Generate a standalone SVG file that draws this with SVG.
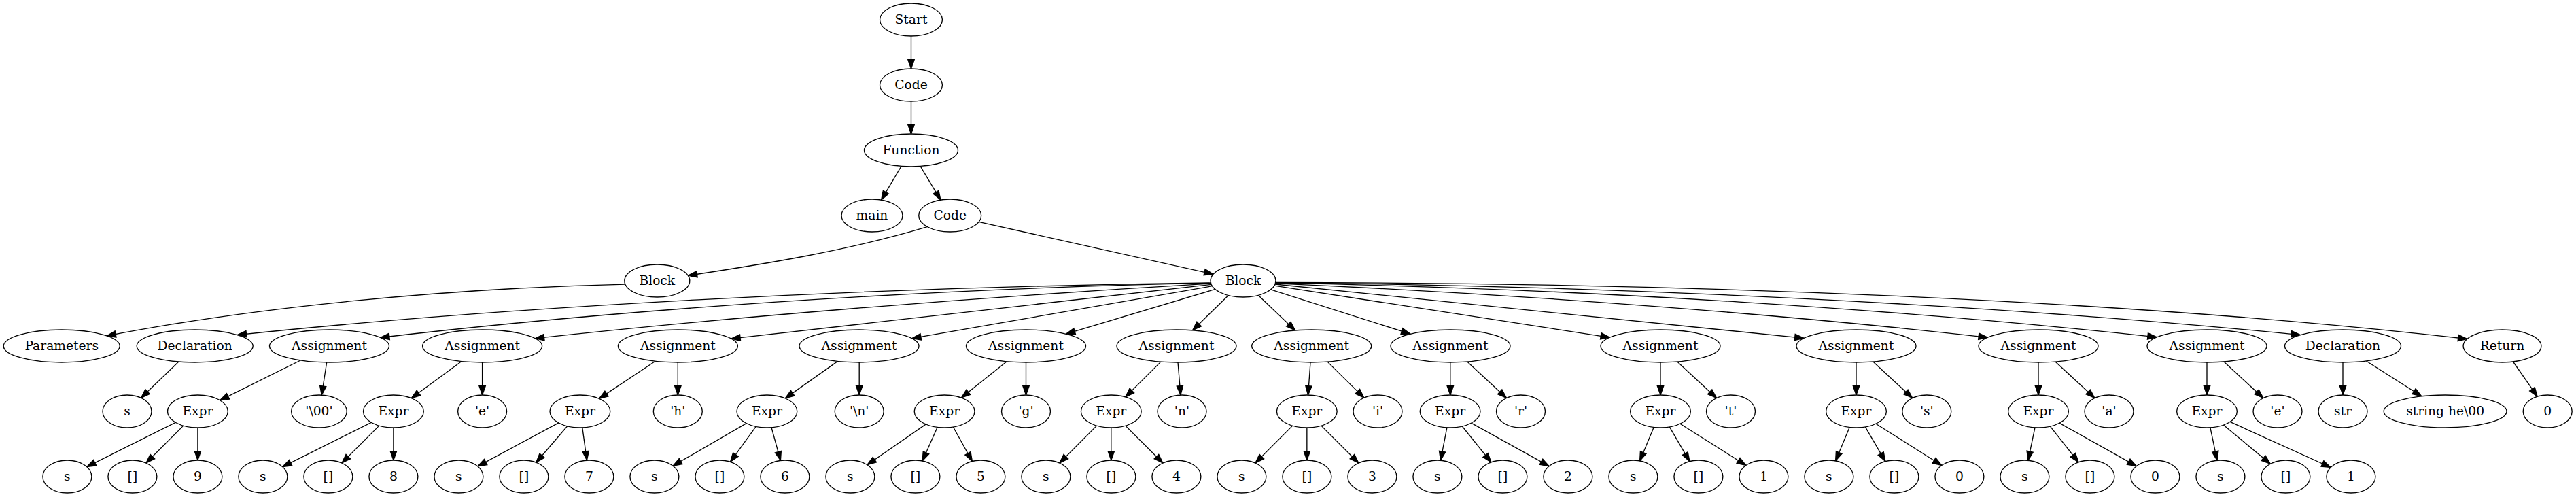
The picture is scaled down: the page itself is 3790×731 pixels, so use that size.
<svg xmlns="http://www.w3.org/2000/svg" width="3790" height="731" viewBox="0 0 3790 731">
<style>
.node ellipse { fill: #ffffff; stroke: #000000; stroke-width: 1.33; }
.node text { font-family: "DejaVu Serif", "Liberation Serif", serif; font-size: 18.67px; text-anchor: middle; fill: #000000; }
#edges path { fill: none; stroke: #000000; stroke-width: 1.33; marker-end: url(#arrow); }
</style>
<defs>
<marker id="arrow" markerUnits="userSpaceOnUse" markerWidth="16" markerHeight="12" viewBox="-1 -1 16 12" refX="13.33" refY="4.67" orient="auto" overflow="visible">
<path d="M0,0 L13.33,4.67 L0,9.33 Z" fill="#000000" stroke="#000000" stroke-width="1.33"/>
</marker>
</defs>
<rect x="0" y="0" width="3790" height="731" fill="#ffffff"/>
<g id="edges">
<path d="M1340.5,53 L1340.5,101"/>
<path d="M1340.5,149 L1340.5,197"/>
<path d="M1326,244.5 L1296.6,294.1"/>
<path d="M1354.1,244.5 L1383.9,294.1"/>
<path d="M1364.2,333.7 C1248.1,368.5 1128.4,387.9 1012.3,405.3"/>
<path d="M1440,326.4 L1785.1,403.2"/>
<path d="M919.9,418.1 C652.9,424.2 370.6,452.3 157,494"/>
<path d="M1781.4,416 C1280.1,422.1 750.2,450.5 349.2,492.6"/>
<path d="M1781.5,416.4 C1353.8,424.4 901.7,456.5 559.6,496.5"/>
<path d="M1781.7,417.1 C1433.7,437.3 1065.7,467.1 787.3,497.7"/>
<path d="M1782.2,418.4 L1075.8,498.1"/>
<path d="M1783.5,420.7 L1341.7,497.7"/>
<path d="M1787.8,425.4 L1568.4,491.2"/>
<path d="M1807.2,434.4 L1754.6,485.9"/>
<path d="M1851.3,434.2 L1905.5,485.9"/>
<path d="M1869.6,425.8 L2075.1,491.2"/>
<path d="M1874.8,420.2 L2368.4,496.3"/>
<path d="M1875.9,418 L2654,497.4"/>
<path d="M1876.4,416.9 C2243.2,432.8 2631,463 2924.4,496.3"/>
<path d="M1876.6,416.2 C2330.4,424.2 2810.2,456.1 3173.2,495.9"/>
<path d="M1876.7,415.8 C2404.4,420.4 2962.3,450.4 3384.5,492.6"/>
<path d="M1876.7,415.5 C2490.3,415.5 3139,442.1 3629.9,498.5"/>
<path d="M262.8,532 L207.5,585.3"/>
<path d="M442.1,530 L323.6,588.8"/>
<path d="M480.7,533 L473.2,581.1"/>
<path d="M679,531.5 L605.2,585.7"/>
<path d="M709.6,533 L709.6,581"/>
<path d="M964.1,531.2 L881.4,586.4"/>
<path d="M997.3,533 L997.3,581"/>
<path d="M1232.4,531.4 L1155.3,585.9"/>
<path d="M1264.2,533 L1264.2,581"/>
<path d="M1481.1,531.7 L1414.4,585.1"/>
<path d="M1509.5,533 L1509.5,581"/>
<path d="M1707.8,532.1 L1655.9,583.9"/>
<path d="M1733,533 L1737,581"/>
<path d="M1928,533 L1924.5,581"/>
<path d="M1953.1,532.1 L2006.8,585.1"/>
<path d="M2133.8,533 L2133.8,581"/>
<path d="M2158.8,532 L2216.5,585.5"/>
<path d="M2443,533 L2443,581"/>
<path d="M2467.8,532 L2525.5,585.5"/>
<path d="M2731,533 L2731,581"/>
<path d="M2755.9,532 L2813.7,585.5"/>
<path d="M2999,533 L2999,581"/>
<path d="M3024,532 L3081.9,585.5"/>
<path d="M3247,533 L3247,581"/>
<path d="M3272,532 L3329.9,585.5"/>
<path d="M3447,533 L3447,581"/>
<path d="M3481.5,531 L3562.8,582.8"/>
<path d="M3697.5,532 L3733.1,583.2"/>
<path d="M258.3,621.3 L127.7,686.6"/>
<path d="M269.8,626.1 L214.9,681"/>
<path d="M290.9,629 L290.9,677"/>
<path d="M546.3,621.3 L415.7,686.6"/>
<path d="M557.8,626.1 L502.9,681"/>
<path d="M578.9,629 L578.9,677"/>
<path d="M821.9,621.9 L702.9,685.9"/>
<path d="M834.7,626.8 L788.8,680.2"/>
<path d="M856.8,628.9 L863.5,677.1"/>
<path d="M1098.1,622.6 L990.1,685.2"/>
<path d="M1112.2,627.4 L1074.5,679.4"/>
<path d="M1135,628.7 L1148.4,677.4"/>
<path d="M1362.3,623.9 L1275.9,683.7"/>
<path d="M1379.2,628.3 L1357.1,678"/>
<path d="M1402.4,628 L1430.4,678.5"/>
<path d="M1613.6,626.1 L1558.9,681"/>
<path d="M1634.8,629 L1634.8,677"/>
<path d="M1655.8,626.1 L1710.9,681"/>
<path d="M1901.7,626.1 L1846.9,681"/>
<path d="M1922.85,629 L1922.85,677"/>
<path d="M1943.9,626.1 L1998.9,681"/>
<path d="M2128.9,628.9 L2119.5,677.2"/>
<path d="M2151.3,627 L2193.9,679.9"/>
<path d="M2164.6,622.2 L2279.2,685.7"/>
<path d="M2433.2,628.4 L2412.6,677.9"/>
<path d="M2456.3,627.9 L2485.9,678.6"/>
<path d="M2471.9,623.2 L2568.8,684.5"/>
<path d="M2721.2,628.4 L2700.6,677.9"/>
<path d="M2744.3,627.9 L2773.9,678.6"/>
<path d="M2759.9,623.2 L2856.8,684.5"/>
<path d="M2994,628.8 L2983.9,677.2"/>
<path d="M3016.4,627.1 L3058.1,679.8"/>
<path d="M3029.9,622.2 L3143.3,685.6"/>
<path d="M3251.9,628.8 L3262,677.2"/>
<path d="M3271.3,625.1 L3340.3,682.3"/>
<path d="M3281,620.4 L3429.1,687.5"/>
</g>
<g id="n_start" class="node"><ellipse cx="1340.5" cy="29" rx="46" ry="24"/><text x="1340.5" y="35">Start</text></g>
<g id="n_code1" class="node"><ellipse cx="1340.5" cy="125" rx="46" ry="24"/><text x="1340.5" y="131">Code</text></g>
<g id="n_function" class="node"><ellipse cx="1340.5" cy="221" rx="69" ry="24"/><text x="1340.5" y="227">Function</text></g>
<g id="n_main" class="node"><ellipse cx="1283" cy="317" rx="45" ry="24"/><text x="1283" y="323">main</text></g>
<g id="n_code2" class="node"><ellipse cx="1397.7" cy="317" rx="46" ry="24"/><text x="1397.7" y="323">Code</text></g>
<g id="n_blockL" class="node"><ellipse cx="966.8" cy="413" rx="48" ry="24"/><text x="966.8" y="419">Block</text></g>
<g id="n_blockR" class="node"><ellipse cx="1829" cy="413" rx="48" ry="24"/><text x="1829" y="419">Block</text></g>
<g id="n_params" class="node"><ellipse cx="90.7" cy="509" rx="85.5" ry="24"/><text x="90.7" y="515">Parameters</text></g>
<g id="n_decl1" class="node"><ellipse cx="286.7" cy="509" rx="85.5" ry="24"/><text x="286.7" y="515">Declaration</text></g>
<g id="n_a1" class="node"><ellipse cx="484.5" cy="509" rx="88" ry="24"/><text x="484.5" y="515">Assignment</text></g>
<g id="n_a2" class="node"><ellipse cx="709.6" cy="509" rx="88" ry="24"/><text x="709.6" y="515">Assignment</text></g>
<g id="n_a3" class="node"><ellipse cx="997.4" cy="509" rx="88" ry="24"/><text x="997.4" y="515">Assignment</text></g>
<g id="n_a4" class="node"><ellipse cx="1264" cy="509" rx="88" ry="24"/><text x="1264" y="515">Assignment</text></g>
<g id="n_a5" class="node"><ellipse cx="1509.5" cy="509" rx="88" ry="24"/><text x="1509.5" y="515">Assignment</text></g>
<g id="n_a6" class="node"><ellipse cx="1731" cy="509" rx="88" ry="24"/><text x="1731" y="515">Assignment</text></g>
<g id="n_a7" class="node"><ellipse cx="1929.7" cy="509" rx="88" ry="24"/><text x="1929.7" y="515">Assignment</text></g>
<g id="n_a8" class="node"><ellipse cx="2134" cy="509" rx="88" ry="24"/><text x="2134" y="515">Assignment</text></g>
<g id="n_a9" class="node"><ellipse cx="2443" cy="509" rx="88" ry="24"/><text x="2443" y="515">Assignment</text></g>
<g id="n_a10" class="node"><ellipse cx="2731" cy="509" rx="88" ry="24"/><text x="2731" y="515">Assignment</text></g>
<g id="n_a11" class="node"><ellipse cx="2999" cy="509" rx="88" ry="24"/><text x="2999" y="515">Assignment</text></g>
<g id="n_a12" class="node"><ellipse cx="3247" cy="509" rx="88" ry="24"/><text x="3247" y="515">Assignment</text></g>
<g id="n_decl2" class="node"><ellipse cx="3447" cy="509" rx="85.5" ry="24"/><text x="3447" y="515">Declaration</text></g>
<g id="n_return" class="node"><ellipse cx="3681.5" cy="509" rx="57.4" ry="24"/><text x="3681.5" y="515">Return</text></g>
<g id="n_decl1_s" class="node"><ellipse cx="187" cy="605" rx="36" ry="24"/><text x="187" y="611">s</text></g>
<g id="n_expr1" class="node"><ellipse cx="290.9" cy="605" rx="44.4" ry="24"/><text x="290.9" y="611">Expr</text></g>
<g id="n_c1" class="node"><ellipse cx="469.4" cy="605" rx="40.8" ry="24"/><text x="469.4" y="611">'\00'</text></g>
<g id="n_expr2" class="node"><ellipse cx="578.9" cy="605" rx="44.4" ry="24"/><text x="578.9" y="611">Expr</text></g>
<g id="n_c2" class="node"><ellipse cx="709.6" cy="605" rx="36" ry="24"/><text x="709.6" y="611">'e'</text></g>
<g id="n_expr3" class="node"><ellipse cx="853.4" cy="605" rx="44.4" ry="24"/><text x="853.4" y="611">Expr</text></g>
<g id="n_c3" class="node"><ellipse cx="997.3" cy="605" rx="36" ry="24"/><text x="997.3" y="611">'h'</text></g>
<g id="n_expr4" class="node"><ellipse cx="1128.4" cy="605" rx="44.4" ry="24"/><text x="1128.4" y="611">Expr</text></g>
<g id="n_c4" class="node"><ellipse cx="1264.2" cy="605" rx="36" ry="24"/><text x="1264.2" y="611">'\n'</text></g>
<g id="n_expr5" class="node"><ellipse cx="1389.6" cy="605" rx="44.4" ry="24"/><text x="1389.6" y="611">Expr</text></g>
<g id="n_c5" class="node"><ellipse cx="1509.5" cy="605" rx="36" ry="24"/><text x="1509.5" y="611">'g'</text></g>
<g id="n_expr6" class="node"><ellipse cx="1634.8" cy="605" rx="44.4" ry="24"/><text x="1634.8" y="611">Expr</text></g>
<g id="n_c6" class="node"><ellipse cx="1739" cy="605" rx="36" ry="24"/><text x="1739" y="611">'n'</text></g>
<g id="n_expr7" class="node"><ellipse cx="1922.8" cy="605" rx="44.4" ry="24"/><text x="1922.8" y="611">Expr</text></g>
<g id="n_c7" class="node"><ellipse cx="2027" cy="605" rx="36" ry="24"/><text x="2027" y="611">'i'</text></g>
<g id="n_expr8" class="node"><ellipse cx="2133.6" cy="605" rx="44.4" ry="24"/><text x="2133.6" y="611">Expr</text></g>
<g id="n_c8" class="node"><ellipse cx="2237.5" cy="605" rx="36" ry="24"/><text x="2237.5" y="611">'r'</text></g>
<g id="n_expr9" class="node"><ellipse cx="2443" cy="605" rx="44.4" ry="24"/><text x="2443" y="611">Expr</text></g>
<g id="n_c9" class="node"><ellipse cx="2546.5" cy="605" rx="36" ry="24"/><text x="2546.5" y="611">'t'</text></g>
<g id="n_expr10" class="node"><ellipse cx="2731" cy="605" rx="44.4" ry="24"/><text x="2731" y="611">Expr</text></g>
<g id="n_c10" class="node"><ellipse cx="2834.8" cy="605" rx="36" ry="24"/><text x="2834.8" y="611">'s'</text></g>
<g id="n_expr11" class="node"><ellipse cx="2999" cy="605" rx="44.4" ry="24"/><text x="2999" y="611">Expr</text></g>
<g id="n_c11" class="node"><ellipse cx="3103" cy="605" rx="36" ry="24"/><text x="3103" y="611">'a'</text></g>
<g id="n_expr12" class="node"><ellipse cx="3247" cy="605" rx="44.4" ry="24"/><text x="3247" y="611">Expr</text></g>
<g id="n_c12" class="node"><ellipse cx="3351" cy="605" rx="36" ry="24"/><text x="3351" y="611">'e'</text></g>
<g id="n_str" class="node"><ellipse cx="3447" cy="605" rx="36" ry="24"/><text x="3447" y="611">str</text></g>
<g id="n_strval" class="node"><ellipse cx="3597.6" cy="605" rx="90.4" ry="24"/><text x="3597.6" y="611">string he\00</text></g>
<g id="n_ret0" class="node"><ellipse cx="3748.2" cy="605" rx="36" ry="24"/><text x="3748.2" y="611">0</text></g>
<g id="n_l0" class="node"><ellipse cx="98.9" cy="701" rx="36" ry="24"/><text x="98.9" y="707">s</text></g>
<g id="n_l1" class="node"><ellipse cx="194.9" cy="701" rx="36" ry="24"/><text x="194.9" y="707">[]</text></g>
<g id="n_l2" class="node"><ellipse cx="290.9" cy="701" rx="36" ry="24"/><text x="290.9" y="707">9</text></g>
<g id="n_l3" class="node"><ellipse cx="386.9" cy="701" rx="36" ry="24"/><text x="386.9" y="707">s</text></g>
<g id="n_l4" class="node"><ellipse cx="482.9" cy="701" rx="36" ry="24"/><text x="482.9" y="707">[]</text></g>
<g id="n_l5" class="node"><ellipse cx="578.9" cy="701" rx="36" ry="24"/><text x="578.9" y="707">8</text></g>
<g id="n_l6" class="node"><ellipse cx="674.9" cy="701" rx="36" ry="24"/><text x="674.9" y="707">s</text></g>
<g id="n_l7" class="node"><ellipse cx="770.9" cy="701" rx="36" ry="24"/><text x="770.9" y="707">[]</text></g>
<g id="n_l8" class="node"><ellipse cx="866.9" cy="701" rx="36" ry="24"/><text x="866.9" y="707">7</text></g>
<g id="n_l9" class="node"><ellipse cx="962.9" cy="701" rx="36" ry="24"/><text x="962.9" y="707">s</text></g>
<g id="n_l10" class="node"><ellipse cx="1058.9" cy="701" rx="36" ry="24"/><text x="1058.9" y="707">[]</text></g>
<g id="n_l11" class="node"><ellipse cx="1154.9" cy="701" rx="36" ry="24"/><text x="1154.9" y="707">6</text></g>
<g id="n_l12" class="node"><ellipse cx="1250.9" cy="701" rx="36" ry="24"/><text x="1250.9" y="707">s</text></g>
<g id="n_l13" class="node"><ellipse cx="1346.9" cy="701" rx="36" ry="24"/><text x="1346.9" y="707">[]</text></g>
<g id="n_l14" class="node"><ellipse cx="1442.9" cy="701" rx="36" ry="24"/><text x="1442.9" y="707">5</text></g>
<g id="n_l15" class="node"><ellipse cx="1538.9" cy="701" rx="36" ry="24"/><text x="1538.9" y="707">s</text></g>
<g id="n_l16" class="node"><ellipse cx="1634.9" cy="701" rx="36" ry="24"/><text x="1634.9" y="707">[]</text></g>
<g id="n_l17" class="node"><ellipse cx="1730.9" cy="701" rx="36" ry="24"/><text x="1730.9" y="707">4</text></g>
<g id="n_l18" class="node"><ellipse cx="1826.9" cy="701" rx="36" ry="24"/><text x="1826.9" y="707">s</text></g>
<g id="n_l19" class="node"><ellipse cx="1922.9" cy="701" rx="36" ry="24"/><text x="1922.9" y="707">[]</text></g>
<g id="n_l20" class="node"><ellipse cx="2018.9" cy="701" rx="36" ry="24"/><text x="2018.9" y="707">3</text></g>
<g id="n_l21" class="node"><ellipse cx="2114.9" cy="701" rx="36" ry="24"/><text x="2114.9" y="707">s</text></g>
<g id="n_l22" class="node"><ellipse cx="2210.9" cy="701" rx="36" ry="24"/><text x="2210.9" y="707">[]</text></g>
<g id="n_l23" class="node"><ellipse cx="2306.9" cy="701" rx="36" ry="24"/><text x="2306.9" y="707">2</text></g>
<g id="n_l24" class="node"><ellipse cx="2402.9" cy="701" rx="36" ry="24"/><text x="2402.9" y="707">s</text></g>
<g id="n_l25" class="node"><ellipse cx="2498.9" cy="701" rx="36" ry="24"/><text x="2498.9" y="707">[]</text></g>
<g id="n_l26" class="node"><ellipse cx="2594.9" cy="701" rx="36" ry="24"/><text x="2594.9" y="707">1</text></g>
<g id="n_l27" class="node"><ellipse cx="2690.9" cy="701" rx="36" ry="24"/><text x="2690.9" y="707">s</text></g>
<g id="n_l28" class="node"><ellipse cx="2786.9" cy="701" rx="36" ry="24"/><text x="2786.9" y="707">[]</text></g>
<g id="n_l29" class="node"><ellipse cx="2882.9" cy="701" rx="36" ry="24"/><text x="2882.9" y="707">0</text></g>
<g id="n_l30" class="node"><ellipse cx="2978.9" cy="701" rx="36" ry="24"/><text x="2978.9" y="707">s</text></g>
<g id="n_l31" class="node"><ellipse cx="3074.9" cy="701" rx="36" ry="24"/><text x="3074.9" y="707">[]</text></g>
<g id="n_l32" class="node"><ellipse cx="3170.9" cy="701" rx="36" ry="24"/><text x="3170.9" y="707">0</text></g>
<g id="n_l33" class="node"><ellipse cx="3266.9" cy="701" rx="36" ry="24"/><text x="3266.9" y="707">s</text></g>
<g id="n_l34" class="node"><ellipse cx="3362.9" cy="701" rx="36" ry="24"/><text x="3362.9" y="707">[]</text></g>
<g id="n_l35" class="node"><ellipse cx="3458.9" cy="701" rx="36" ry="24"/><text x="3458.9" y="707">1</text></g>
</svg>
